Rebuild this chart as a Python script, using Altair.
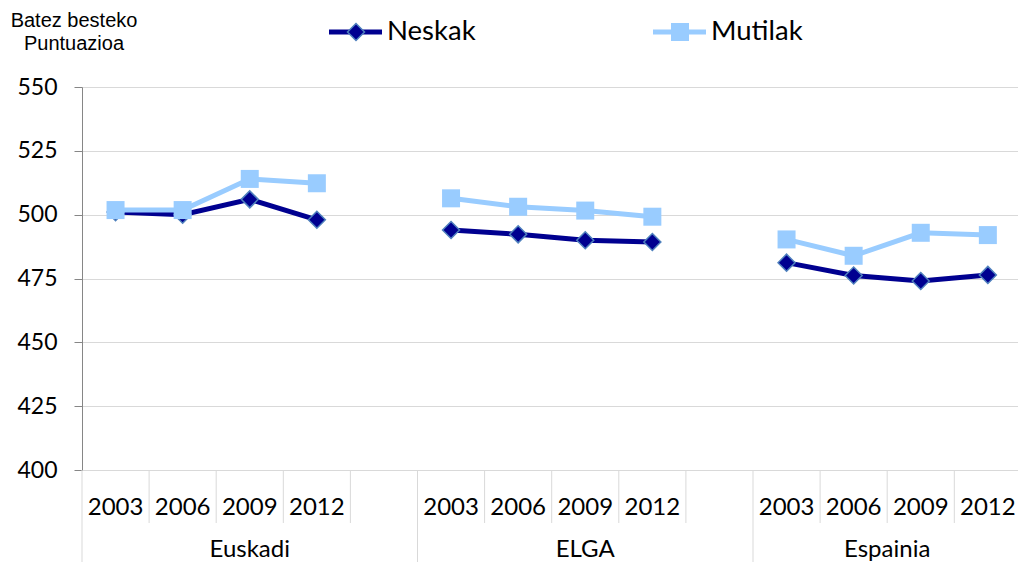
import altair as alt
import pandas as pd

# ---------------- data ----------------
groups = ["Euskadi", "ELGA", "Espainia"]
years = ["2003", "2006", "2009", "2012"]
series_names = ["Neskak", "Mutilak"]

neskak_euskadi = [501.0, 500.0, 506.0, 498.0]
neskak_elga = [494.0, 492.3, 490.0, 489.3]
neskak_espainia = [481.2, 476.2, 474.0, 476.4]

mutilak_euskadi = [501.8, 501.8, 514.0, 512.3]
mutilak_elga = [506.4, 503.1, 501.6, 499.2]
mutilak_espainia = [490.3, 483.9, 492.9, 492.0]

y_ticks = [400, 425, 450, 475, 500, 525, 550]
y_title_lines = ["Batez besteko", "Puntuazioa"]

# ---------------- layout / style ----------------
SLOTS_PER_GROUP = len(years) + 1            # four years + an empty gap
N_SLOTS = len(groups) * SLOTS_PER_GROUP - 1  # no gap after the last group
PAD_L, PAD_T, PAD_R, PAD_B = 74, 79, 0, 92
W, H = 936, 383
SLOT_PX = 67.1
X_MAX = W / SLOT_PX

NAVY = "#000090"
LIGHT = "#99CCFF"
EDGE = "#4F81BD"
GRID = "#D9D9D9"
AXIS = "#868686"
FONT = "Lato"

series_values = {
    "Neskak": [neskak_euskadi, neskak_elga, neskak_espainia],
    "Mutilak": [mutilak_euskadi, mutilak_elga, mutilak_espainia],
}

rows = []
for s in series_names:
    for gi, g in enumerate(groups):
        for yi, yr in enumerate(years):
            rows.append({
                "series": s, "group": g, "year": yr,
                "slot": gi * SLOTS_PER_GROUP + yi + 0.5,
                "value": series_values[s][gi][yi],
            })
df = pd.DataFrame(rows)
df_nes = df[df.series == "Neskak"]
df_mut = df[df.series == "Mutilak"]
df_years = df_nes[["group", "year", "slot"]]

year_sep, group_sep, group_lab = [], [], []
for gi, g in enumerate(groups):
    start = gi * SLOTS_PER_GROUP
    end = min(start + SLOTS_PER_GROUP, N_SLOTS)
    group_sep.append({"slot": start})
    group_lab.append({"slot": (start + end) / 2, "group": g})
    for k in range(1, len(years) + 1):
        p = start + k
        if p < N_SLOTS and p != start + SLOTS_PER_GROUP:
            year_sep.append({"slot": p})
df_year_sep = pd.DataFrame(year_sep)
df_group_sep = pd.DataFrame(group_sep)
df_group_lab = pd.DataFrame(group_lab)

x_scale = alt.Scale(domain=[0, X_MAX], nice=False, zero=False)
y_scale = alt.Scale(domain=[400, 550], nice=False, zero=False)
X = alt.X("slot:Q", scale=x_scale, axis=None)
y_axis = alt.Axis(
    values=y_ticks, title=None, grid=True, gridColor=GRID, gridWidth=1,
    domainColor=AXIS, domainWidth=1, tickColor=AXIS, tickSize=8, tickWidth=1,
    labelPadding=17, labelFont=FONT, labelFontSize=23, labelColor="#000000",
)
Y = alt.Y("value:Q", scale=y_scale, axis=y_axis)

# ---------------- data layers ----------------
line_nes = alt.Chart(df_nes).mark_line(color=NAVY, strokeWidth=5).encode(
    x=X, y=Y, detail="group:N")
pts_nes = alt.Chart(df_nes).mark_point(
    shape="diamond", filled=True, size=289, fill=NAVY, stroke=EDGE,
    strokeWidth=1.5, opacity=1).encode(x=X, y=alt.Y("value:Q", scale=y_scale))
line_mut = alt.Chart(df_mut).mark_line(color=LIGHT, strokeWidth=5).encode(
    x=X, y=alt.Y("value:Q", scale=y_scale), detail="group:N")
pts_mut = alt.Chart(df_mut).mark_point(
    shape="square", filled=True, size=324, fill=LIGHT, strokeWidth=0,
    opacity=1).encode(x=X, y=alt.Y("value:Q", scale=y_scale))

# ---------------- category axis (two levels) ----------------
ysep = alt.Chart(df_year_sep).mark_rule(color=GRID, strokeWidth=1).encode(
    x=X, y=alt.value(H), y2=alt.value(H + 53))
gsep = alt.Chart(df_group_sep).mark_rule(color=GRID, strokeWidth=1).encode(
    x=X, y=alt.value(H), y2=alt.value(H + PAD_B))
ylab = alt.Chart(df_years).mark_text(
    font=FONT, fontSize=24, color="#000000", align="center",
    baseline="alphabetic").encode(x=X, y=alt.value(H + 45), text="year:N")
glab = alt.Chart(df_group_lab).mark_text(
    font=FONT, fontSize=24, color="#000000", align="center",
    baseline="alphabetic").encode(x=X, y=alt.value(H + 87), text="group:N")

# ---------------- legend ----------------
leg_y = -55
leg_nes_df = pd.DataFrame({"label": [series_names[0]]})
leg_mut_df = pd.DataFrame({"label": [series_names[1]]})
leg = [
    alt.Chart(leg_nes_df).mark_rule(color=NAVY, strokeWidth=5).encode(
        x=alt.value(247), x2=alt.value(300), y=alt.value(leg_y)),
    alt.Chart(leg_nes_df).mark_point(
        shape="diamond", filled=True, size=289, fill=NAVY, stroke=EDGE,
        strokeWidth=1.5, opacity=1).encode(x=alt.value(274), y=alt.value(leg_y)),
    alt.Chart(leg_nes_df).mark_text(
        font=FONT, fontSize=27.5, color="#000000", align="left",
        baseline="alphabetic").encode(x=alt.value(305), y=alt.value(leg_y + 8),
                                      text="label:N"),
    alt.Chart(leg_mut_df).mark_rule(color=LIGHT, strokeWidth=5).encode(
        x=alt.value(571), x2=alt.value(624), y=alt.value(leg_y)),
    alt.Chart(leg_mut_df).mark_point(
        shape="square", filled=True, size=324, fill=LIGHT, strokeWidth=0,
        opacity=1).encode(x=alt.value(598), y=alt.value(leg_y)),
    alt.Chart(leg_mut_df).mark_text(
        font=FONT, fontSize=27.5, color="#000000", align="left",
        baseline="alphabetic").encode(x=alt.value(629), y=alt.value(leg_y + 8),
                                      text="label:N"),
]

# ---------------- y title ----------------
t1 = alt.Chart(pd.DataFrame({"t": [y_title_lines[0]]})).mark_text(
    font="Liberation Sans", fontSize=20, color="#000000", align="center",
    baseline="alphabetic").encode(x=alt.value(-8), y=alt.value(-60), text="t:N")
t2 = alt.Chart(pd.DataFrame({"t": [y_title_lines[1]]})).mark_text(
    font="Liberation Sans", fontSize=20, color="#000000", align="center",
    baseline="alphabetic").encode(x=alt.value(-8), y=alt.value(-37), text="t:N")

chart = alt.layer(
    line_nes, pts_nes, line_mut, pts_mut, ysep, gsep, ylab, glab, *leg, t1, t2
).properties(
    width=W, height=H,
    padding={"left": PAD_L, "top": PAD_T, "right": PAD_R, "bottom": PAD_B},
    autosize=alt.AutoSizeParams(type="none"),
    background="#FFFFFF",
).configure_view(stroke=None)

chart.save("out.html", embed_options={"renderer": "svg", "actions": False})
